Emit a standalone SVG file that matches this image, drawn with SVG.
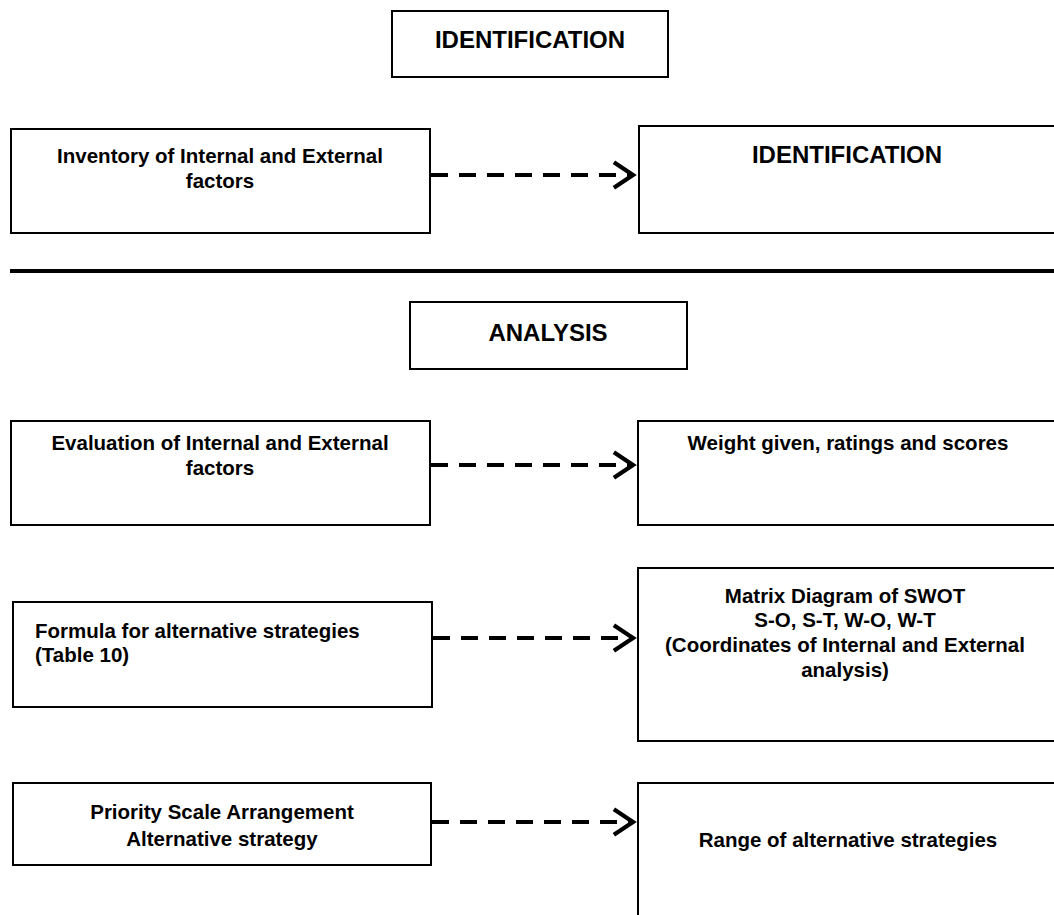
<svg xmlns="http://www.w3.org/2000/svg" width="1054" height="915" viewBox="0 0 1054 915">
<style>
  .box { fill: #ffffff; stroke: #000000; stroke-width: 2; }
  .t { font-family: "Liberation Sans", Arial, sans-serif; font-weight: bold; fill: #000000; }
  .h { font-size: 24px; text-anchor: middle; }
  .b { font-size: 20.5px; text-anchor: middle; }
  .bl { font-size: 20.5px; text-anchor: start; }
  .conn { stroke: #000000; stroke-width: 4; stroke-dasharray: 17 11; fill: none; }
  .divider { stroke: #000000; stroke-width: 4; }
</style>
<defs>
  <marker id="chev" markerUnits="userSpaceOnUse" markerWidth="30" markerHeight="34" viewBox="-4 -16 26 32" refX="18" refY="0" orient="auto">
    <path d="M0,-12 L18,0 L0,12" fill="none" stroke="#000000" stroke-width="4" stroke-linejoin="miter"/>
  </marker>
</defs>
<rect width="1054" height="915" fill="#ffffff"/>

<g id="head-identification">
  <rect class="box" x="392" y="11" width="276" height="66"/>
  <text class="t h" x="530" y="48">IDENTIFICATION</text>
</g>

<g id="inventory">
  <rect class="box" x="11" y="129" width="419" height="104"/>
  <text class="t b" x="220" y="163">Inventory of Internal and External</text>
  <text class="t b" x="220" y="188">factors</text>
</g>

<g id="identification">
  <rect class="box" x="639" y="126" width="420" height="107"/>
  <text class="t h" x="847" y="163">IDENTIFICATION</text>
</g>

<line id="divider" class="divider" x1="10" y1="271" x2="1054" y2="271"/>

<g id="head-analysis">
  <rect class="box" x="410" y="302" width="277" height="67"/>
  <text class="t h" x="548" y="341">ANALYSIS</text>
</g>

<g id="evaluation">
  <rect class="box" x="11" y="421" width="419" height="104"/>
  <text class="t b" x="220" y="450">Evaluation of Internal and External</text>
  <text class="t b" x="220" y="475">factors</text>
</g>

<g id="weight">
  <rect class="box" x="638" y="421" width="421" height="104"/>
  <text class="t b" x="848" y="450">Weight given, ratings and scores</text>
</g>

<g id="formula">
  <rect class="box" x="13" y="602" width="419" height="105"/>
  <text class="t bl" x="35" y="638">Formula for alternative strategies</text>
  <text class="t bl" x="35" y="662">(Table 10)</text>
</g>

<g id="matrix">
  <rect class="box" x="638" y="568" width="421" height="173"/>
  <text class="t b" x="845" y="603">Matrix Diagram of SWOT</text>
  <text class="t b" x="845" y="627">S-O, S-T, W-O, W-T</text>
  <text class="t b" x="845" y="652">(Coordinates of Internal and External</text>
  <text class="t b" x="845" y="677">analysis)</text>
</g>

<g id="priority">
  <rect class="box" x="13" y="783" width="418" height="82"/>
  <text class="t b" x="222" y="819">Priority Scale Arrangement</text>
  <text class="t b" x="222" y="846">Alternative strategy</text>
</g>

<g id="range">
  <rect class="box" x="638" y="783" width="421" height="140"/>
  <text class="t b" x="848" y="847">Range of alternative strategies</text>
</g>

<g id="connectors">
  <line class="conn" x1="431" y1="175" x2="633" y2="175" marker-end="url(#chev)"/>
  <line class="conn" x1="431" y1="465" x2="633" y2="465" marker-end="url(#chev)"/>
  <line class="conn" x1="433" y1="638" x2="633" y2="638" marker-end="url(#chev)"/>
  <line class="conn" x1="432" y1="822" x2="633" y2="822" marker-end="url(#chev)"/>
</g>
</svg>
